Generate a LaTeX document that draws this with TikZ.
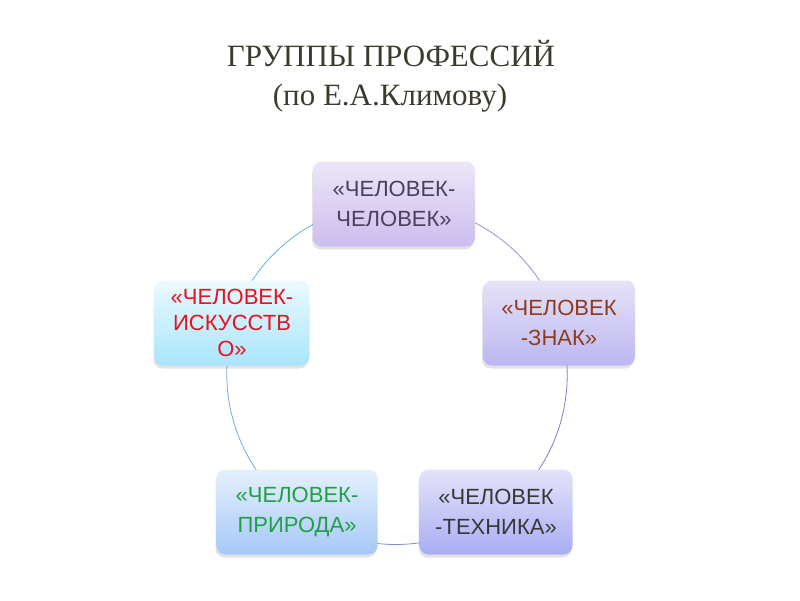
\documentclass[tikz,border=0pt]{standalone}
\usepackage{fontspec}
\setmainfont{Liberation Serif}
\newfontfamily\boxfont{Liberation Sans}
\usetikzlibrary{shadows,backgrounds}

\definecolor{titlecol}{HTML}{3D3B2E}
\definecolor{arcA}{HTML}{9B8DCB}
\definecolor{arcB}{HTML}{7E7FC9}
\definecolor{arcC}{HTML}{7A8ED0}
\definecolor{arcD}{HTML}{7EA6D6}
\definecolor{arcE}{HTML}{5FB4DA}
\definecolor{chelTop}{HTML}{EDE6F8}
\definecolor{chelBot}{HTML}{CCBDEE}
\definecolor{chelTxt}{HTML}{4A3F5C}
\definecolor{znakTop}{HTML}{E6E2F8}
\definecolor{znakBot}{HTML}{BCB7F0}
\definecolor{znakTxt}{HTML}{8E3B1E}
\definecolor{iskTop}{HTML}{ECFAFE}
\definecolor{iskBot}{HTML}{A8E5FC}
\definecolor{iskTxt}{HTML}{E8121E}
\definecolor{prirTop}{HTML}{E5F0FC}
\definecolor{prirBot}{HTML}{A6C8F6}
\definecolor{prirTxt}{HTML}{1FA046}
\definecolor{techTop}{HTML}{E4E3FA}
\definecolor{techBot}{HTML}{A9ADF2}
\definecolor{techTxt}{HTML}{383838}

\begin{document}
\begin{tikzpicture}[x=1pt, y=-1pt,
                    grad/.style={top color=#1Top, bottom color=#1Bot, text=#1Txt},
                    prof/.style={rounded corners=9pt, minimum width=155pt, minimum height=85pt,
                                 align=center, font=\boxfont\fontsize{22}{30}\selectfont,
                                 drop shadow={opacity=0.22, shadow xshift=-1pt, shadow yshift=-3pt}},
                    head/.style={font=\fontsize{31}{33}\selectfont, text=titlecol, anchor=base},
                    ring/.style={line width=0.8pt}
                    ]
    \useasboundingbox (0,0) rectangle (800,600);

    \node[head] (title) at (391,66) {ГРУППЫ ПРОФЕССИЙ};
    \node[head] (author) at (390,105) {(по Е.А.Климову)};

    \node[prof, minimum width=162pt, grad=chel] (chel) at (394,204) {«ЧЕЛОВЕК-\\ЧЕЛОВЕК»};
    \node[prof, minimum width=152pt, grad=znak] (znak) at (559,323) {«ЧЕЛОВЕК\\-ЗНАК»};
    \node[prof, grad=isk, font=\boxfont\fontsize{22}{26}\selectfont] (isk) at (232,323) {«ЧЕЛОВЕК-\\ИСКУССТВ\\О»};
    \node[prof, minimum width=161pt, grad=prir] (prir) at (297,512) {«ЧЕЛОВЕК-\\ПРИРОДА»};
    \node[prof, minimum width=153pt, grad=tech] (tech) at (496,512) {«ЧЕЛОВЕК\\-ТЕХНИКА»};

    % the ring between the groups
    \begin{scope}[on background layer]
        \foreach \i/\a/\b/\c in {chel/-91/-17.8/arcA, znak/-17.8/54.1/arcB, tech/54.1/126.1/arcC,
                                 prir/126.1/197.5/arcD, isk/197.5/269/arcE}{
            \draw[ring, \c] (\i.center) arc[start angle=\a, end angle=\b, radius=171];
        }
    \end{scope}

\end{tikzpicture}
\end{document}
